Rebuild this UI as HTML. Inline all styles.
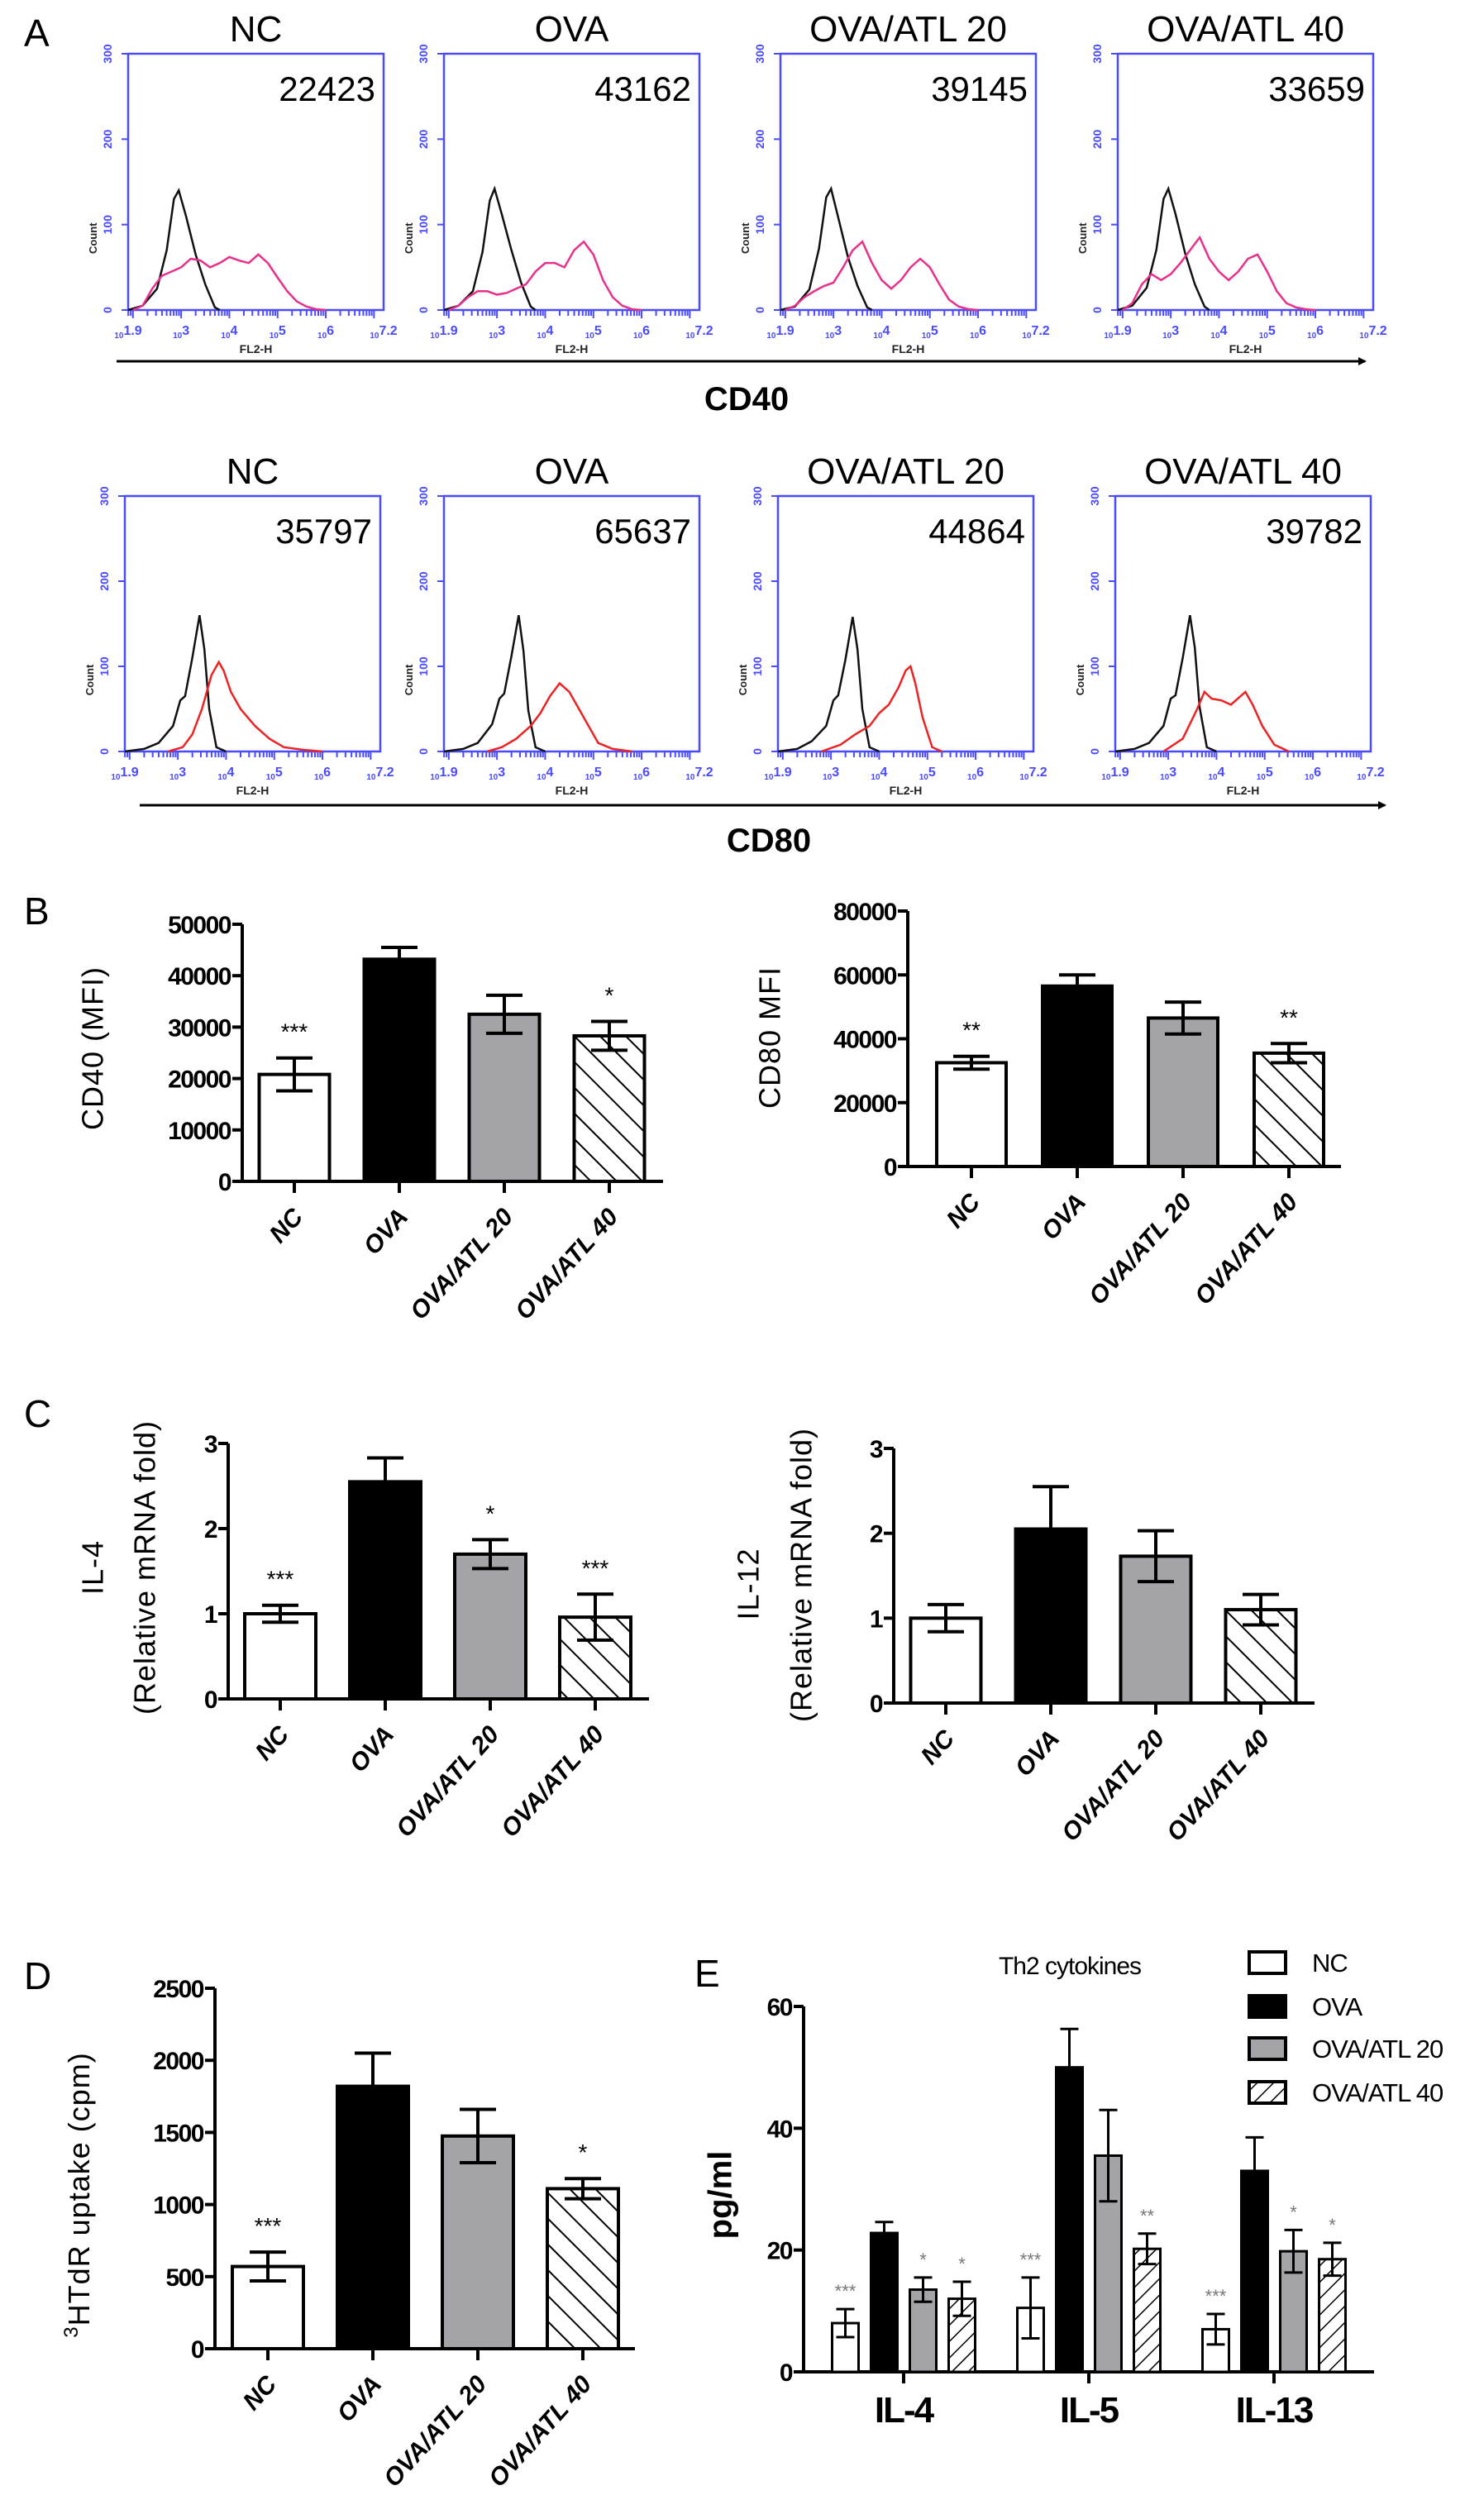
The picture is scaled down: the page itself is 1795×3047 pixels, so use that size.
<!DOCTYPE html>
<html><head><meta charset="utf-8"><style>
html,body{margin:0;padding:0;background:#fff;}
svg{display:block;font-family:"Liberation Sans",sans-serif;}
</style></head><body>
<svg id="fig" xmlns="http://www.w3.org/2000/svg" width="1795" height="3047" viewBox="0 0 1795 3047">
<defs>
<pattern id="hatchB" patternUnits="userSpaceOnUse" width="22" height="22" patternTransform="rotate(-45)">
<rect width="22" height="22" fill="#fff"/><line x1="0" y1="0" x2="0" y2="22" stroke="#000" stroke-width="4"/></pattern>
<pattern id="hatchE" patternUnits="userSpaceOnUse" width="14" height="14" patternTransform="rotate(45)">
<rect width="14" height="14" fill="#fff"/><line x1="0" y1="0" x2="0" y2="14" stroke="#000" stroke-width="3"/></pattern>
<marker id="arr" markerWidth="10" markerHeight="10" refX="8" refY="5" orient="auto" markerUnits="userSpaceOnUse">
<path d="M0,0 L10,5 L0,10 Z" fill="#000"/></marker>
</defs>
</svg>
<script>
// ---------- histogram data (log10 fluorescence, count) ----------
const cd40BlackLog=[1.9,2.2,2.5,2.7,2.85,2.95,3.1,3.3,3.5,3.7,3.8];
const cd40NcBlack=[0,5,25,70,130,140,110,65,30,3,0];
const cd40OvaBlack=[0,5,22,68,128,142,112,70,32,4,0];
const cd40Atl20Black=[0,4,24,72,132,142,108,62,28,3,0];
const cd40Atl40Black=[0,5,26,70,130,142,112,66,30,4,0];
const cd40ColLog=[2.0,2.2,2.4,2.6,2.8,3.0,3.2,3.4,3.6,3.8,4.0,4.2,4.4,4.6,4.8,5.0,5.2,5.4,5.6,5.8,6.0];
const cd40NcCol=[0,5,25,40,45,50,60,58,50,55,62,58,55,65,55,38,22,10,4,1,0];
const cd40OvaCol=[0,5,15,22,22,18,20,25,30,45,55,55,50,70,80,65,35,15,5,1,0];
const cd40Atl20Col=[0,5,15,22,28,32,50,70,80,55,35,25,35,50,60,50,30,12,4,1,0];
const cd40Atl40Col=[0,8,30,42,35,42,55,70,85,60,45,35,45,60,65,45,22,8,3,1,0];
const cd80BlackLog=[1.9,2.3,2.6,2.9,3.05,3.15,3.3,3.45,3.55,3.65,3.8,4.0];
const cd80NcBlack=[0,3,10,30,60,65,110,160,120,50,5,0];
const cd80OvaBlack=[0,3,10,32,62,68,112,160,118,48,5,0];
const cd80Atl20Black=[0,3,12,30,60,66,108,158,120,50,5,0];
const cd80Atl40Black=[0,3,10,30,62,66,110,160,122,52,5,0];
const cd80NcLog=[2.8,3.1,3.3,3.5,3.7,3.85,3.95,4.1,4.3,4.6,4.9,5.2,5.6,6.0];
const cd80NcCol=[0,5,20,50,90,105,95,70,50,30,15,5,2,0];
const cd80OvaLog=[2.8,3.1,3.4,3.7,3.9,4.1,4.3,4.5,4.7,4.9,5.1,5.4,5.8];
const cd80OvaCol=[0,5,15,30,45,65,80,70,50,30,10,3,0];
const cd80Atl20Log=[2.8,3.2,3.5,3.8,4.0,4.2,4.4,4.55,4.65,4.75,4.9,5.1,5.3];
const cd80Atl20Col=[0,8,20,30,45,55,75,95,100,80,40,5,0];
const cd80Atl40Log=[2.9,3.3,3.6,3.75,3.9,4.1,4.3,4.5,4.6,4.75,4.95,5.2,5.5];
const cd80Atl40Col=[0,15,50,70,62,60,55,65,70,55,30,8,0];
const mfiCD40=["22423","43162","39145","33659"];
const mfiCD80=["35797","65637","44864","39782"];
const histTitles=["NC","OVA","OVA/ATL 20","OVA/ATL 40"];
const histYTicks=[0,100,200,300];
const histXTicks=["1.9","3","4","5","6","7.2"];

// ---------- bar chart data ----------
const cats=["NC","OVA","OVA/ATL 20","OVA/ATL 40"];
const cd40Mean=[20800,43200,32500,28300];
const cd40Err=[3200,2300,3700,2800];
const cd40Stars=["***","","","*"];
const cd40Ticks=[0,10000,20000,30000,40000,50000];
const cd80Mean=[32500,56500,46500,35500];
const cd80Err=[2000,3500,5000,3000];
const cd80Stars=["**","","","**"];
const cd80Ticks=[0,20000,40000,60000,80000];
const il4Mean=[1.0,2.55,1.7,0.96];
const il4Err=[0.1,0.28,0.17,0.27];
const il4Stars=["***","","*","***"];
const il12Mean=[1.0,2.05,1.73,1.1];
const il12Err=[0.16,0.5,0.3,0.18];
const il12Stars=["","","",""];
const foldTicks=[0,1,2,3];
const tdrMean=[570,1820,1475,1110];
const tdrErr=[100,230,185,70];
const tdrStars=["***","","","*"];
const tdrTicks=[0,500,1000,1500,2000,2500];
const eGroups=["IL-4","IL-5","IL-13"];
const eNC=[8,10.5,7];
const eOVA=[22.8,50,33];
const eATL20=[13.5,35.5,19.8];
const eATL40=[12,20.2,18.5];
const eNCErr=[2.3,5,2.5];
const eOVAErr=[1.8,6.3,5.5];
const eATL20Err=[2,7.5,3.5];
const eATL40Err=[2.8,2.5,2.7];
const eNCStars=["***","***","***"];
const eOVAStars=["","",""];
const eATL20Stars=["*","","*"];
const eATL40Stars=["*","**","*"];
const eTicks=[0,20,40,60];
const legendLabels=["NC","OVA","OVA/ATL 20","OVA/ATL 40"];

const NS="http://www.w3.org/2000/svg";
const svg=document.getElementById('fig');
function mk(tag,attrs,parent,text){
  const e=document.createElementNS(NS,tag);
  for(const k in attrs) e.setAttribute(k,attrs[k]);
  if(text!==undefined) e.textContent=text;
  (parent||svg).appendChild(e);
  return e;
}
function grp(name,parent){
  const g=document.createElementNS(NS,'g');
  
  
  (parent||svg).appendChild(g);
  return g;
}
const BLUE="#4a4aff";

// ---------- panel letters ----------
[["A",29,56],["B",29,1118],["C",29,1726],["D",29,2406],["E",840,2403]].forEach(p=>{
  const t=mk('text',{x:p[1],y:p[2],'font-size':46,fill:'#000'},svg,p[0]);
  
  
});

// ---------- histograms ----------
function hist(bx,by,w,h,title,num,bl,bc,cl,cc,color,name){
  const g=grp(name);
  const X=l=>bx+(l-1.9)/5.3*w;
  const Y=c=>by+h-c/300*h;
  const t=mk('text',{x:bx+w/2,y:by-15,'font-size':44,'text-anchor':'middle'},g,title);
  
  
  mk('path',{d:`M${bx},${by} H${bx+100}`,stroke:'#333','stroke-width':2,'stroke-dasharray':'4 3'},g);
  const box=mk('rect',{x:bx,y:by,width:w,height:h,fill:'none',stroke:BLUE,'stroke-width':2.5},g);
  
  
  const n=mk('text',{x:bx+w-10,y:by+57,'font-size':42,'text-anchor':'end'},g,num);
  
  
  histYTicks.forEach(v=>{
    mk('line',{x1:bx-8,x2:bx,y1:Y(v),y2:Y(v),stroke:BLUE,'stroke-width':2},g);
    mk('text',{x:bx-20,y:Y(v),'font-size':14,'font-weight':'bold',fill:BLUE,'text-anchor':'middle',transform:`rotate(-90 ${bx-20} ${Y(v)})`},g,String(v));
  });
  const c=mk('text',{x:bx-38,y:by+h*0.72,'font-size':13,'font-weight':'bold','text-anchor':'middle',fill:'#222',transform:`rotate(-90 ${bx-38} ${by+h*0.72})`},g,'Count');
  
  
  for(let d=1;d<=7;d++){for(let m=1;m<10;m++){const l=d+Math.log10(m);if(l<1.9||l>7.2)continue;
    mk('line',{x1:X(l),x2:X(l),y1:by+h,y2:by+h+(m===1?10:7),stroke:BLUE,'stroke-width':2},g);}}
  histXTicks.forEach(s=>{
    const l=parseFloat(s);
    const tx=mk('text',{x:X(l),y:by+h+34,'font-size':16,'font-weight':'bold',fill:BLUE,'text-anchor':'middle'},g);
    mk('tspan',{'font-size':10},tx,'10');
    mk('tspan',{dy:-4},tx,s);
  });
  const f=mk('text',{x:bx+w/2,y:by+h+52,'font-size':14,'font-weight':'bold',fill:'#222','text-anchor':'middle'},g,'FL2-H');
  
  
  const p1=mk('polyline',{points:bl.map((l,i)=>X(l)+','+Y(bc[i])).join(' '),fill:'none',stroke:'#111','stroke-width':2.5},g);
  
  
  const p2=mk('polyline',{points:cl.map((l,i)=>X(l)+','+Y(cc[i])).join(' '),fill:'none',stroke:color,'stroke-width':2.5},g);
  
  
}
const row1X=[155,537,944,1352], row2X=[151,537,941,1349];
const cd40B=[cd40NcBlack,cd40OvaBlack,cd40Atl20Black,cd40Atl40Black];
const cd40C=[cd40NcCol,cd40OvaCol,cd40Atl20Col,cd40Atl40Col];
const cd80B=[cd80NcBlack,cd80OvaBlack,cd80Atl20Black,cd80Atl40Black];
const cd80L=[cd80NcLog,cd80OvaLog,cd80Atl20Log,cd80Atl40Log];
const cd80C=[cd80NcCol,cd80OvaCol,cd80Atl20Col,cd80Atl40Col];
for(let i=0;i<4;i++){
  hist(row1X[i],65,309,310,histTitles[i],mfiCD40[i],cd40BlackLog,cd40B[i],cd40ColLog,cd40C[i],'#e8308a','cd40-histogram-'+i);
  hist(row2X[i],600,309,309,histTitles[i],mfiCD80[i],cd80BlackLog,cd80B[i],cd80L[i],cd80C[i],'#ee2222','cd80-histogram-'+i);
}
const a1=mk('line',{x1:141,y1:437,x2:1651,y2:437,stroke:'#000','stroke-width':3,'marker-end':'url(#arr)'});


const a2=mk('line',{x1:169,y1:974,x2:1675,y2:974,stroke:'#000','stroke-width':3,'marker-end':'url(#arr)'});


const l1=mk('text',{x:903,y:496,'font-size':40,'font-weight':'bold','text-anchor':'middle'},svg,'CD40');


const l2=mk('text',{x:930,y:1030,'font-size':40,'font-weight':'bold','text-anchor':'middle'},svg,'CD80');



// ---------- bar charts ----------
const fills=['#fff','#000','#a3a3a8','url(#hatchB)'];
function barChart(o,name){
  const g=grp(name);
  const Y=v=>o.y0-(v/o.max)*(o.y0-o.yTop);
  const ax=mk('path',{d:`M${o.ax},${o.yTop} V${o.y0} H${o.axEnd}`,fill:'none',stroke:'#000','stroke-width':4},g);
  
  
  o.ticks.forEach(v=>{
    mk('line',{x1:o.ax-12,x2:o.ax,y1:Y(v),y2:Y(v),stroke:'#000','stroke-width':4},g);
    const t=mk('text',{x:o.ax-14,y:Y(v)+11,'font-size':30,'font-weight':'bold','text-anchor':'end','letter-spacing':-1.5},g,String(v));
    
    
  });
  o.mean.forEach((m,i)=>{
    const cx=o.c0+i*o.step;
    const r=mk('rect',{x:cx-o.bw/2,y:Y(m),width:o.bw,height:o.y0-Y(m),fill:fills[i],stroke:'#000','stroke-width':4},g);
    
    
    const e=o.err[i],yt=Y(m+e),yb=Y(m-e);
    const eb=mk('path',{d:`M${cx},${yt} V${yb} M${cx-22},${yt} H${cx+22} M${cx-22},${yb} H${cx+22}`,stroke:'#000','stroke-width':4,fill:'none'},g);
    
    
    if(o.stars[i]){
      const s=mk('text',{x:cx,y:yt-22,'font-size':28,'text-anchor':'middle'},g,o.stars[i]);
      
      
    }
    mk('line',{x1:cx,x2:cx,y1:o.y0,y2:o.y0+14,stroke:'#000','stroke-width':4},g);
    const lx=cx+12,ly=o.y0+44;
    const cl=mk('text',{x:lx,y:ly,'font-size':30,'font-weight':'bold','font-style':'italic','text-anchor':'end',transform:`rotate(-48 ${lx} ${ly})`},g,cats[i]);
    
    
  });
  o.titles.forEach(tt=>{
    const t=mk('text',{x:tt[1],y:tt[2],'font-size':36,'text-anchor':'middle','dominant-baseline':'middle','letter-spacing':1,transform:`rotate(-90 ${tt[1]} ${tt[2]})`},g);
    
    
    if(tt[3]){mk('tspan',{'font-size':24,dy:-10},t,tt[3]);mk('tspan',{dy:10},t,tt[0]);}
    else t.textContent=tt[0];
  });
}
barChart({ax:293,axEnd:802,y0:1429,yTop:1118,max:50000,ticks:cd40Ticks,mean:cd40Mean,err:cd40Err,stars:cd40Stars,c0:356,step:127,bw:85,titles:[["CD40 (MFI)",115,1268]]},'chart-cd40-mfi');
barChart({ax:1098,axEnd:1622,y0:1411,yTop:1102,max:80000,ticks:cd80Ticks,mean:cd80Mean,err:cd80Err,stars:cd80Stars,c0:1175,step:128,bw:84,titles:[["CD80 MFI",934,1255]]},'chart-cd80-mfi');
barChart({ax:276,axEnd:785,y0:2055,yTop:1746,max:3,ticks:foldTicks,mean:il4Mean,err:il4Err,stars:il4Stars,c0:339,step:127,bw:86,titles:[["IL-4",115,1896],["(Relative mRNA fold)",178,1896]]},'chart-il4-mrna');
barChart({ax:1081,axEnd:1590,y0:2060,yTop:1752,max:3,ticks:foldTicks,mean:il12Mean,err:il12Err,stars:il12Stars,c0:1144,step:127,bw:85,titles:[["IL-12",908,1916],["(Relative mRNA fold)",972,1905]]},'chart-il12-mrna');
barChart({ax:260,axEnd:768,y0:2841,yTop:2405,max:2500,ticks:tdrTicks,mean:tdrMean,err:tdrErr,stars:tdrStars,c0:324,step:127,bw:86,titles:[["HTdR uptake (cpm)",98,2655,"3"]]},'chart-thymidine-uptake');

// ---------- panel E ----------
(function(){
  const g=grp('chart-th2-cytokines');
  const ax=972,axEnd=1662,y0=2869,yTop=2427,max=60;
  const Y=v=>y0-(v/max)*(y0-yTop);
  const a=mk('path',{d:`M${ax},${yTop} V${y0} H${axEnd}`,fill:'none',stroke:'#000','stroke-width':4},g);
  
  
  eTicks.forEach(v=>{
    mk('line',{x1:ax-12,x2:ax,y1:Y(v),y2:Y(v),stroke:'#000','stroke-width':4},g);
    const t=mk('text',{x:ax-14,y:Y(v)+11,'font-size':30,'font-weight':'bold','text-anchor':'end','letter-spacing':-1.5},g,String(v));
    
    
  });
  const series=[eNC,eOVA,eATL20,eATL40], errs=[eNCErr,eOVAErr,eATL20Err,eATL40Err], stars=[eNCStars,eOVAStars,eATL20Stars,eATL40Stars];
  const ef=['#fff','#000','#a3a3a8','url(#hatchE)'];
  eGroups.forEach((gn,gi)=>{
    const gc=1093+224*gi;
    mk('line',{x1:gc,x2:gc,y1:y0,y2:y0+14,stroke:'#000','stroke-width':4},g);
    const gl=mk('text',{x:gc,y:2930,'font-size':44,'font-weight':'bold','text-anchor':'middle','letter-spacing':-2},g,gn);
    
    
    series.forEach((s,si)=>{
      const cx=gc+(si-1.5)*47,m=s[gi],e=errs[si][gi];
      const r=mk('rect',{x:cx-16,y:Y(m),width:32,height:y0-Y(m),fill:ef[si],stroke:'#000','stroke-width':3},g);
      
      
      const yt=Y(m+e),yb=Y(m-e);
      const eb=mk('path',{d:`M${cx},${yt} V${yb} M${cx-11},${yt} H${cx+11} M${cx-11},${yb} H${cx+11}`,stroke:'#000','stroke-width':3,fill:'none'},g);
      
      
      if(stars[si][gi]){
        const st=mk('text',{x:cx,y:yt-14,'font-size':22,fill:'#777','text-anchor':'middle'},g,stars[si][gi]);
        
        
      }
    });
  });
  const yt=mk('text',{x:874,y:2655,'font-size':40,'font-weight':'bold','text-anchor':'middle','dominant-baseline':'middle',transform:'rotate(-90 874 2655)'},g,'pg/ml');
  
  
  const ti=mk('text',{x:1294,y:2388,'font-size':30,'text-anchor':'middle','letter-spacing':-1},g,'Th2 cytokines');
  
  
  const rows=[2374,2427,2478,2531];
  legendLabels.forEach((lb,i)=>{
    const lg=grp('legend-entry',g);
    mk('rect',{x:1511,y:rows[i]-13,width:44,height:26,fill:ef[i],stroke:'#000','stroke-width':4},lg);
    mk('text',{x:1587,y:rows[i]+11,'font-size':31,'letter-spacing':-1},lg,lb);
  });
})();
</script>
</body></html>
